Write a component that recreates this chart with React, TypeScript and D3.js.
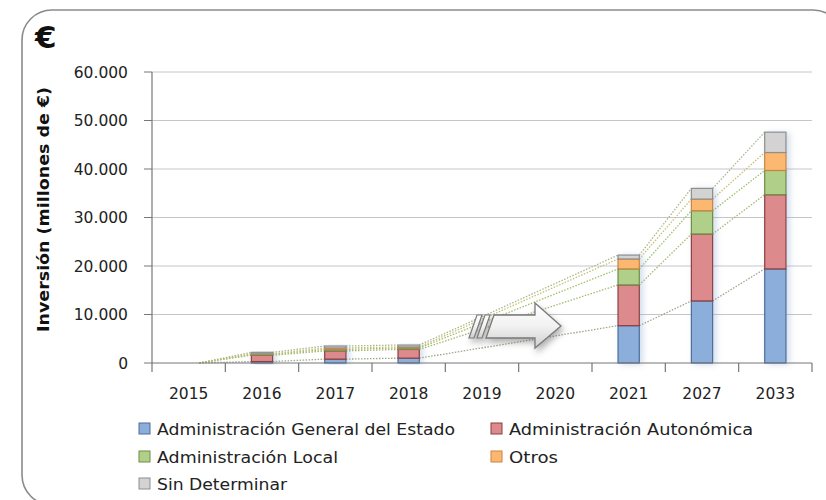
import React from "react";
import * as d3 from "d3";

const categories = ["2015", "2016", "2017", "2018", "2019", "2020", "2021", "2027", "2033"];
const ageValues = [0, 300, 800, 1000, null, null, 7700, 12800, 19400];
const aaValues = [0, 1300, 1700, 1800, null, null, 8400, 13800, 15300];
const alValues = [0, 200, 300, 300, null, null, 3300, 4800, 5000];
const otrosValues = [0, 100, 300, 200, null, null, 2050, 2400, 3700];
const sdValues = [0, 300, 400, 400, null, null, 800, 2200, 4200];
const seriesNames = [
  "Administración General del Estado",
  "Administración Autonómica",
  "Administración Local",
  "Otros",
  "Sin Determinar",
];
const yTicks = [0, 10000, 20000, 30000, 40000, 50000, 60000];

const fills = ["#8caedb", "#dc8a8c", "#b0d08a", "#fcb871", "#d3d3d3"];
const strokes = ["#4f6d97", "#8c3f42", "#708c45", "#c98540", "#8e8e8e"];
const lineColors = ["#9aa88a", "#a8b86f", "#9fbf6a", "#c8c070", "#a9b78e"];

const W = 826;
const H = 500;
const left = 152;
const right = 812;
const top = 72;
const bottom = 363;

export default function App() {
  const series = [ageValues, aaValues, alValues, otrosValues, sdValues];
  const x = d3.scaleBand<string>().domain(categories).range([left, right]).paddingInner(0.71).paddingOuter(0.355);
  const y = d3.scaleLinear().domain([0, 60000]).range([bottom, top]);
  const fmt = d3.formatLocale({ decimal: ",", thousands: ".", grouping: [3], currency: ["", "€"] }).format(",");
  const stack = categories.map((c, i) => {
    let acc = 0;
    return series.map((s) => {
      const v = s[i];
      if (v === null) return null;
      const y0 = acc;
      acc += v;
      return { y0, y1: acc };
    });
  });
  const valid = categories.map((c, i) => series[0][i] !== null);
  const bw = x.bandwidth();
  const step = x.step();
  const font = "'DejaVu Sans', Verdana, sans-serif";

  // series lines
  const lines: JSX.Element[] = [];
  series.forEach((s, si) => {
    let prev = -1;
    categories.forEach((c, i) => {
      if (!valid[i]) return;
      if (prev >= 0) {
        const a = stack[prev][si]!;
        const b = stack[i][si]!;
        lines.push(
          <line
            key={`l${si}-${i}`}
            x1={(x(categories[prev]) as number) + bw}
            y1={y(a.y1)}
            x2={x(c) as number}
            y2={y(b.y1)}
            stroke={lineColors[si]}
            strokeWidth={1.3}
            strokeDasharray="1.5,1.5"
          />
        );
      }
      prev = i;
    });
  });

  const legendItems = [
    { name: seriesNames[0], x: 139, y: 429, len: 298, i: 0 },
    { name: seriesNames[1], x: 491, y: 429, len: 244, i: 1 },
    { name: seriesNames[2], x: 139, y: 457, len: 181, i: 2 },
    { name: seriesNames[3], x: 491, y: 457, len: 49, i: 3 },
    { name: seriesNames[4], x: 139, y: 484, len: 130, i: 4 },
  ];

  // arrow geometry
  const ax0 = 490, ax1 = 535, tipX = 561, bodyT = 315, bodyB = 338, headT = 303, headB = 348, tipY = 326;

  return (
    <svg width={W} height={H} style={{ position: "absolute", left: 0, top: 0 }} fontFamily={font}>
      <defs>
        <filter id="barShadow" x="-50%" y="-10%" width="200%" height="120%">
          <feDropShadow dx="3" dy="1" stdDeviation="3" floodColor="#7d9bc8" floodOpacity="0.35" />
        </filter>
        <filter id="arrowShadow" x="-20%" y="-30%" width="140%" height="170%">
          <feDropShadow dx="2" dy="4" stdDeviation="3" floodColor="#555" floodOpacity="0.45" />
        </filter>
        <linearGradient id="arrowGrad" x1="0" y1="0" x2="0" y2="1">
          <stop offset="0" stopColor="#ffffff" />
          <stop offset="0.5" stopColor="#f2f2f2" />
          <stop offset="1" stopColor="#cfcfcf" />
        </linearGradient>
      </defs>
      <rect x={0} y={0} width={W} height={H} fill="#ffffff" />
      {/* frame */}
      <rect x={22} y={10} width={821} height={495} rx={30} ry={30} fill="none" stroke="#8a8a8a" strokeWidth={1.6} />
      <text x={35} y={48} fontSize={31} fontWeight="bold" fontFamily="'DejaVu Sans', sans-serif" fill="#111">€</text>
      {/* gridlines */}
      {yTicks.map((t) => (
        <g key={t}>
          {t > 0 && <line x1={left} x2={right} y1={y(t)} y2={y(t)} stroke="#c4c6cc" strokeWidth={1} />}
          <line x1={left - 8} x2={left} y1={y(t)} y2={y(t)} stroke="#777" strokeWidth={1} />
          <text x={128} y={y(t)} dy="0.36em" textAnchor="end" fontSize={15.5} fill="#222">
            {fmt(t)}
          </text>
        </g>
      ))}
      {/* series lines */}
      {lines}
      {/* bars */}
      {categories.map((c, i) =>
        valid[i] ? (
          <g key={c} filter="url(#barShadow)">
            {stack[i].map((s, si) =>
              s && s.y1 - s.y0 > 0 ? (
                <rect
                  key={si}
                  x={x(c) as number}
                  y={y(s.y1)}
                  width={bw}
                  height={y(s.y0) - y(s.y1)}
                  fill={fills[si]}
                  stroke={strokes[si]}
                  strokeWidth={1.2}
                />
              ) : null
            )}
          </g>
        ) : null
      )}
      {/* axes */}
      <line x1={left} x2={left} y1={top} y2={bottom + 9} stroke="#777" strokeWidth={1.2} />
      <line x1={left} x2={right} y1={bottom} y2={bottom} stroke="#777" strokeWidth={1.2} />
      {categories.map((c, i) => (
        <line key={"t" + c} x1={left + step * (i + 1)} x2={left + step * (i + 1)} y1={bottom} y2={bottom + 9} stroke="#777" strokeWidth={1.2} />
      ))}
      {categories.map((c) => (
        <text key={"x" + c} x={(x(c) as number) + bw / 2} y={393} dy="0.36em" textAnchor="middle" fontSize={15.5} fill="#222">
          {c}
        </text>
      ))}
      {/* arrow */}
      <g filter="url(#arrowShadow)">
        <polygon
          points={`${ax0 + 4},${bodyT} ${ax1},${bodyT} ${ax1},${headT} ${tipX},${tipY} ${ax1},${headB} ${ax1},${bodyB} ${ax0 - 4},${bodyB}`}
          fill="url(#arrowGrad)"
          stroke="#7a7a7a"
          strokeWidth={1.3}
        />
        <polygon points={`${ax0 - 5},${bodyT} ${ax0},${bodyT} ${ax0 - 8},${bodyB} ${ax0 - 13},${bodyB}`} fill="url(#arrowGrad)" stroke="#7a7a7a" strokeWidth={1.2} />
        <polygon points={`${ax0 - 13},${bodyT} ${ax0 - 8},${bodyT} ${ax0 - 16},${bodyB} ${ax0 - 21},${bodyB}`} fill="url(#arrowGrad)" stroke="#7a7a7a" strokeWidth={1.2} />
      </g>
      {/* y title */}
      <text
        transform={`translate(49,${209.5}) rotate(-90)`}
        textAnchor="middle"
        fontSize={15}
        fontWeight="bold"
        fill="#111"
        textLength={245}
        lengthAdjust="spacingAndGlyphs"
      >
        Inversión (millones de €)
      </text>
      {/* legend */}
      {legendItems.map((l) => (
        <g key={l.name}>
          <rect x={l.x} y={l.y - 6} width={11} height={11} fill={fills[l.i]} stroke={strokes[l.i]} strokeWidth={1} />
          <text x={l.x + 18} y={l.y} dy="0.36em" fontSize={15.5} fill="#222" textLength={l.len} lengthAdjust="spacingAndGlyphs">
            {l.name}
          </text>
        </g>
      ))}
    </svg>
  );
}
